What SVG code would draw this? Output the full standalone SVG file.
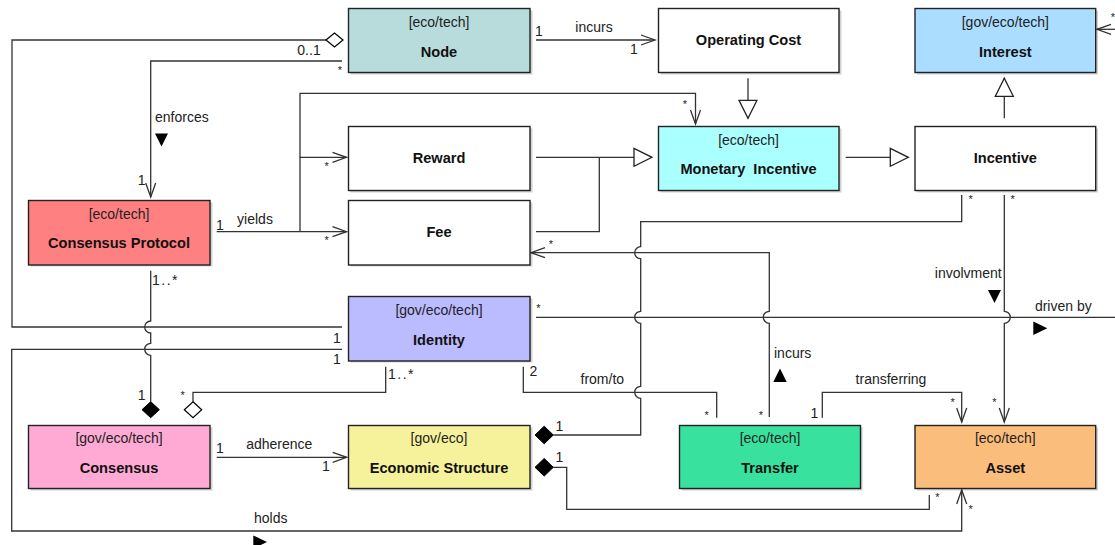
<svg xmlns="http://www.w3.org/2000/svg" width="1115" height="545" viewBox="0 0 1115 545">
<style>
.box{stroke:#222;stroke-width:1.4}
.sh{fill:#000;opacity:0.18}
.st{font-family:"Liberation Sans",Arial,sans-serif;font-size:14px;fill:#222;text-anchor:middle}
.nm{font-family:"Liberation Sans",Arial,sans-serif;font-size:14.6px;font-weight:bold;fill:#111;text-anchor:middle}
.ln{fill:none;stroke:#333;stroke-width:1.3}
.lb{font-family:"Liberation Sans",Arial,sans-serif;font-size:14px;fill:#222}
.m{font-family:"Liberation Sans",Arial,sans-serif;font-size:14px;fill:#222}
.s{font-family:"Liberation Sans",Arial,sans-serif;font-size:11px;fill:#222}
.fd{fill:#000;stroke:#000;stroke-width:1}
.hd{fill:#fff;stroke:#000;stroke-width:1.2}
.tri{fill:#000}
</style>
<defs>
<marker id="open" markerUnits="userSpaceOnUse" markerWidth="16" markerHeight="12" refX="14" refY="5" orient="auto" overflow="visible">
<path d="M0,0 L14,5 L0,10" fill="none" stroke="#333" stroke-width="1.3"/>
</marker>
<marker id="gen" markerUnits="userSpaceOnUse" markerWidth="20" markerHeight="20" refX="18" refY="9" orient="auto" overflow="visible">
<path d="M0,0 L18,9 L0,18 Z" fill="#fff" stroke="#222" stroke-width="1.3"/>
</marker>
</defs>
<rect width="1115" height="545" fill="#fff"/>

<g id="connectors">
<path class="ln" d="M536,40 H655" marker-end="url(#open)"/>
<path class="ln" d="M326,40 H12 V327 H342"/>
<path class="ln" d="M342,61 H150.7 V197" marker-end="url(#open)"/>
<path class="ln" d="M216.7,231.7 H346.5" marker-end="url(#open)"/>
<path class="ln" d="M300,231.7 V157.3 H346.5" marker-end="url(#open)"/>
<path class="ln" d="M300,157.3 V93.3 H695.5 V124" marker-end="url(#open)"/>
<path class="ln" d="M536,157.3 H652" marker-end="url(#gen)"/>
<path class="ln" d="M536,231.7 H599.3 V157.3"/>
<path class="ln" d="M748,78.3 V118.3" marker-end="url(#gen)"/>
<path class="ln" d="M845.7,157.3 H908.3" marker-end="url(#gen)"/>
<path class="ln" d="M1004.3,118.3 V78.3" marker-end="url(#gen)"/>
<path class="ln" d="M1118,29.3 H1097" marker-end="url(#open)"/>
<path class="ln" d="M961.7,195 V221.7 H640.7 V246.7 A6,6 0 0 0 640.7,258.7 V311.3 A6,6 0 0 0 640.7,323.3 V386.3 A6,6 0 0 0 640.7,398.3 V435 H553.3"/>
<path class="ln" d="M1004.3,195 V311.3 A6,6 0 0 1 1004.3,323.3 V422" marker-end="url(#open)"/>
<path class="ln" d="M769.3,417 V323.3 A6,6 0 0 1 769.3,311.3 V252.7 H531" marker-end="url(#open)"/>
<path class="ln" d="M536,317.3 H1115"/>
<path class="ln" d="M523.3,366.7 V392.3 H716.7 V417.7"/>
<path class="ln" d="M385.7,366.7 V392.3 H193 V401.7"/>
<path class="ln" d="M150.7,270.7 V321 A6,6 0 0 0 150.7,333 V343.3 A6,6 0 0 0 150.7,355.3 V401.7"/>
<path class="ln" d="M342,349.3 H11.7 V531 H961.7 V490" marker-end="url(#open)"/>
<path class="ln" d="M216.7,457.3 H346.7" marker-end="url(#open)"/>
<path class="ln" d="M553.3,467.3 H566.7 V509.3 H929.3 V495"/>
<path class="ln" d="M822.3,417.7 V392.3 H961.7 V422" marker-end="url(#open)"/>

<polygon class="hd" points="326,40 334.5,33 343,40 334.5,47"/>
<polygon class="hd" points="193,401.7 201.7,409.7 193,417.7 184.3,409.7"/>
<polygon class="fd" points="150.7,401.7 159.4,409.7 150.7,417.7 142,409.7"/>
<polygon class="fd" points="535,435 544.2,426.2 553.3,435 544.2,443.8"/>
<polygon class="fd" points="535,467.3 544.2,458.5 553.3,467.3 544.2,476.1"/>

<polygon class="tri" points="155,133.5 168,133.5 161.5,146.5"/>
<polygon class="tri" points="988,290 1001,290 994.5,303"/>
<polygon class="tri" points="773.3,382 786.7,382 780,368.5"/>
<polygon class="tri" points="1033.3,321.5 1047.3,328.3 1033.3,335"/>
<polygon class="tri" points="253.3,535.5 267,542 253.3,548.5"/>

<text class="m" x="539" y="36" text-anchor="middle">1</text>
<text class="lb" x="594" y="31.5" text-anchor="middle">incurs</text>
<text class="m" x="634" y="54" text-anchor="middle">1</text>
<text class="m" x="309" y="54.5" text-anchor="middle">0..1</text>
<text class="s" x="340" y="74" text-anchor="middle">*</text>
<text class="lb" x="155" y="121.5">enforces</text>
<text class="m" x="141.7" y="185" text-anchor="middle">1</text>
<text class="m" x="220" y="230" text-anchor="middle">1</text>
<text class="lb" x="255" y="224" text-anchor="middle">yields</text>
<text class="s" x="326.7" y="170" text-anchor="middle">*</text>
<text class="s" x="326.7" y="243.5" text-anchor="middle">*</text>
<text class="s" x="685" y="107.5" text-anchor="middle">*</text>
<text class="s" x="970.7" y="202.5" text-anchor="middle">*</text>
<text class="s" x="1012.7" y="202.5" text-anchor="middle">*</text>
<text class="lb" x="968.3" y="278" text-anchor="middle">involvment</text>
<text class="s" x="994.3" y="406" text-anchor="middle">*</text>
<text class="s" x="551" y="247.5" text-anchor="middle">*</text>
<text class="s" x="538.3" y="312" text-anchor="middle">*</text>
<text class="lb" x="1063.3" y="310.5" text-anchor="middle">driven by</text>
<text class="s" x="1113" y="21" text-anchor="middle">*</text>
<text class="m" x="337" y="343" text-anchor="middle">1</text>
<text class="m" x="337" y="364" text-anchor="middle">1</text>
<text class="lb" x="774" y="357.5">incurs</text>
<text class="s" x="761" y="419" text-anchor="middle">*</text>
<text class="m" x="533.3" y="376" text-anchor="middle">2</text>
<text class="lb" x="602.3" y="384" text-anchor="middle">from/to</text>
<text class="s" x="706.7" y="419" text-anchor="middle">*</text>
<text class="m" x="388" y="379" letter-spacing="1.5">1..*</text>
<text class="s" x="182.7" y="399" text-anchor="middle">*</text>
<text class="m" x="152" y="284.5" letter-spacing="1.5">1..*</text>
<text class="m" x="141.7" y="399.5" text-anchor="middle">1</text>
<text class="m" x="559.3" y="431" text-anchor="middle">1</text>
<text class="m" x="559.3" y="462" text-anchor="middle">1</text>
<text class="m" x="220" y="453" text-anchor="middle">1</text>
<text class="lb" x="279.3" y="449" text-anchor="middle">adherence</text>
<text class="m" x="326" y="471" text-anchor="middle">1</text>
<text class="m" x="814.3" y="418" text-anchor="middle">1</text>
<text class="lb" x="891" y="384" text-anchor="middle">transferring</text>
<text class="s" x="952.7" y="406" text-anchor="middle">*</text>
<text class="s" x="937.3" y="501" text-anchor="middle">*</text>
<text class="s" x="970.7" y="512.5" text-anchor="middle">*</text>
<text class="lb" x="270.7" y="522.5" text-anchor="middle">holds</text>
</g>

<g id="node-node">
<rect class="sh" x="350.5" y="10.5" width="182" height="64"/>
<rect class="box" x="348.5" y="8.5" width="181.5" height="64" fill="#B7DCDB"/>
<text class="st" x="439" y="27">[eco/tech]</text>
<text class="nm" x="439" y="57">Node</text>
</g>
<g id="node-operating-cost">
<rect class="sh" x="660.5" y="10.5" width="181" height="64"/>
<rect class="box" x="658.5" y="8.5" width="180.5" height="64" fill="#fff"/>
<text class="nm" x="748.5" y="45">Operating Cost</text>
</g>
<g id="node-interest">
<rect class="sh" x="917" y="10.5" width="181" height="64"/>
<rect class="box" x="915" y="8.5" width="180.7" height="64" fill="#AADDFF"/>
<text class="st" x="1005.3" y="27">[gov/eco/tech]</text>
<text class="nm" x="1005.3" y="57">Interest</text>
</g>
<g id="node-reward">
<rect class="sh" x="350.5" y="128.5" width="182" height="64"/>
<rect class="box" x="348.5" y="126.5" width="181.5" height="64" fill="#fff"/>
<text class="nm" x="439" y="163">Reward</text>
</g>
<g id="node-monetary-incentive">
<rect class="sh" x="660.5" y="128.5" width="181" height="64"/>
<rect class="box" x="658.5" y="126.5" width="180.5" height="64" fill="#AAFFFF"/>
<text class="st" x="748.5" y="145">[eco/tech]</text>
<text class="nm" x="748.5" y="174" style="white-space:pre">Monetary  Incentive</text>
</g>
<g id="node-incentive">
<rect class="sh" x="917" y="128.5" width="181" height="64"/>
<rect class="box" x="915" y="126.5" width="180.7" height="64" fill="#fff"/>
<text class="nm" x="1005.3" y="163">Incentive</text>
</g>
<g id="node-consensus-protocol">
<rect class="sh" x="30.5" y="202.5" width="182" height="64"/>
<rect class="box" x="28.5" y="200.5" width="181.5" height="64.5" fill="#FF8080"/>
<text class="st" x="119" y="219">[eco/tech]</text>
<text class="nm" x="119" y="248">Consensus Protocol</text>
</g>
<g id="node-fee">
<rect class="sh" x="350.5" y="202.5" width="182" height="64"/>
<rect class="box" x="348.5" y="200.5" width="181.5" height="64.5" fill="#fff"/>
<text class="nm" x="439" y="237">Fee</text>
</g>
<g id="node-identity">
<rect class="sh" x="350.5" y="298.5" width="182" height="64"/>
<rect class="box" x="348.5" y="296.5" width="181.5" height="64.5" fill="#BBBBFF"/>
<text class="st" x="439" y="315">[gov/eco/tech]</text>
<text class="nm" x="439" y="345">Identity</text>
</g>
<g id="node-consensus">
<rect class="sh" x="30.5" y="427.5" width="182" height="63"/>
<rect class="box" x="28.5" y="425.5" width="181.5" height="63" fill="#FFAAD4"/>
<text class="st" x="119" y="443">[gov/eco/tech]</text>
<text class="nm" x="119" y="473">Consensus</text>
</g>
<g id="node-economic-structure">
<rect class="sh" x="350.5" y="427.5" width="182" height="63"/>
<rect class="box" x="348.5" y="425.5" width="181.5" height="63" fill="#F6F29C"/>
<text class="st" x="439" y="443">[gov/eco]</text>
<text class="nm" x="439" y="473">Economic Structure</text>
</g>
<g id="node-transfer">
<rect class="sh" x="681.5" y="427.5" width="181" height="63"/>
<rect class="box" x="679.5" y="425.5" width="181" height="63" fill="#38E29E"/>
<text class="st" x="770" y="443">[eco/tech]</text>
<text class="nm" x="770" y="473">Transfer</text>
</g>
<g id="node-asset">
<rect class="sh" x="917" y="427.5" width="181" height="63"/>
<rect class="box" x="915" y="425.5" width="180.7" height="63" fill="#FBBD7B"/>
<text class="st" x="1005.3" y="443">[eco/tech]</text>
<text class="nm" x="1005.3" y="473">Asset</text>
</g>
</svg>
